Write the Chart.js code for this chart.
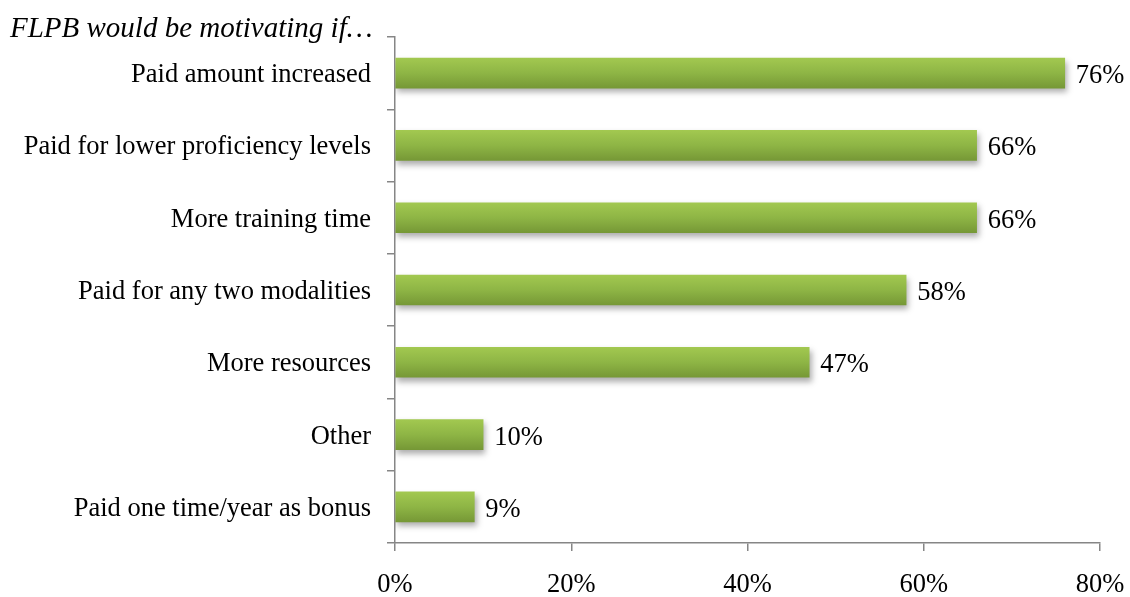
<!DOCTYPE html>
<html>
<head>
<meta charset="utf-8">
<script src="https://cdn.jsdelivr.net/npm/chart.js@4/dist/chart.umd.min.js"></script>
<style>
  html, body { margin: 0; padding: 0; background: #ffffff; }
  #wrap { width: 1130px; height: 597px; position: relative; }
</style>
</head>
<body>
<div id="wrap"><canvas id="chart"></canvas></div>
<script>
// Survey answers and their shares
const categories = [
  'Paid amount increased',
  'Paid for lower proficiency levels',
  'More training time',
  'Paid for any two modalities',
  'More resources',
  'Other',
  'Paid one time/year as bonus'
];
const shares = [76, 66, 66, 58, 47, 10, 9];
const xTicks = [0, 20, 40, 60, 80];
const heading = 'FLPB would be motivating if\u2026';

const SERIF = '"Liberation Serif", "Times New Roman", serif';
const AXIS_GREY = '#868686';
const BAR_HALF = 15;
const TEXT_SIZE = 26.5;

// Vertical green gradient for each bar, placed on the bar's band
function barFill(ctx) {
  const chart = ctx.chart;
  const y = chart.scales && chart.scales.y;
  if (!y || ctx.dataIndex === undefined) return '#8DB443';
  const c = y.getPixelForValue(ctx.dataIndex);
  if (!Number.isFinite(c)) return '#8DB443';
  const g = chart.ctx.createLinearGradient(0, c - BAR_HALF, 0, c + BAR_HALF);
  g.addColorStop(0, '#A2C850');
  g.addColorStop(0.5, '#8EB545');
  g.addColorStop(1, '#769836');
  return g;
}

// Soft drop shadow under the bars
const barShadow = {
  id: 'barShadow',
  beforeDatasetsDraw(chart) {
    const ctx = chart.ctx;
    ctx.save();
    ctx.shadowColor = 'rgba(0,0,0,0.32)';
    ctx.shadowBlur = 6;
    ctx.shadowOffsetX = 2;
    ctx.shadowOffsetY = 4;
  },
  afterDatasetsDraw(chart) {
    chart.ctx.restore();
  }
};

// Percent labels at the end of each bar
const valueLabels = {
  id: 'valueLabels',
  afterDatasetsDraw(chart) {
    const ctx = chart.ctx;
    const meta = chart.getDatasetMeta(0);
    ctx.save();
    ctx.font = TEXT_SIZE + 'px ' + SERIF;
    ctx.fillStyle = '#000000';
    ctx.textAlign = 'left';
    ctx.textBaseline = 'middle';
    meta.data.forEach((bar, i) => {
      ctx.fillText(shares[i] + '%', bar.x + 11, bar.y + 3);
    });
    ctx.restore();
  }
};

// Italic heading in the top-left corner
const headingPlugin = {
  id: 'headingPlugin',
  afterDraw(chart) {
    const ctx = chart.ctx;
    ctx.save();
    ctx.font = 'italic 29px ' + SERIF;
    ctx.fillStyle = '#000000';
    ctx.textAlign = 'left';
    ctx.textBaseline = 'middle';
    ctx.fillText(heading, 10, 29);
    ctx.restore();
  }
};

const chart = new Chart(document.getElementById('chart'), {
  type: 'bar',
  data: {
    labels: categories,
    datasets: [{
      data: shares,
      backgroundColor: barFill,
      borderWidth: 0,
      barThickness: BAR_HALF * 2
    }]
  },
  plugins: [barShadow, valueLabels, headingPlugin],
  options: {
    indexAxis: 'y',
    responsive: true,
    maintainAspectRatio: false,
    animation: false,
    layout: { padding: { top: 37, right: 30, left: 0, bottom: 0 } },
    plugins: {
      legend: { display: false },
      tooltip: { enabled: false },
      title: { display: false }
    },
    scales: {
      x: {
        min: 0,
        max: 80,
        afterBuildTicks(scale) {
          scale.ticks = xTicks.map(v => ({ value: v }));
        },
        afterFit(scale) {
          scale.height = 54;
          scale.paddingLeft = 0;
          scale.paddingRight = 0;
        },
        border: { display: true, color: AXIS_GREY, width: 1.5 },
        grid: {
          display: true,
          drawOnChartArea: false,
          drawTicks: true,
          tickLength: 8,
          color: AXIS_GREY,
          lineWidth: 1.5
        },
        ticks: {
          padding: 18,
          maxRotation: 0,
          color: '#000000',
          font: { family: SERIF, size: TEXT_SIZE },
          callback: v => v + '%'
        }
      },
      y: {
        afterFit(scale) {
          scale.width = 395;
          scale.paddingTop = 0;
          scale.paddingBottom = 0;
        },
        border: { display: true, color: AXIS_GREY, width: 1.5 },
        grid: {
          display: true,
          offset: true,
          drawOnChartArea: false,
          drawTicks: true,
          tickLength: 8,
          color: AXIS_GREY,
          lineWidth: 1.5
        },
        ticks: {
          padding: 16,
          labelOffset: 2,
          color: '#000000',
          font: { family: SERIF, size: TEXT_SIZE }
        }
      }
    }
  }
});
// re-resolve colours once the scales have pixel positions
chart.update();
</script>
</body>
</html>
